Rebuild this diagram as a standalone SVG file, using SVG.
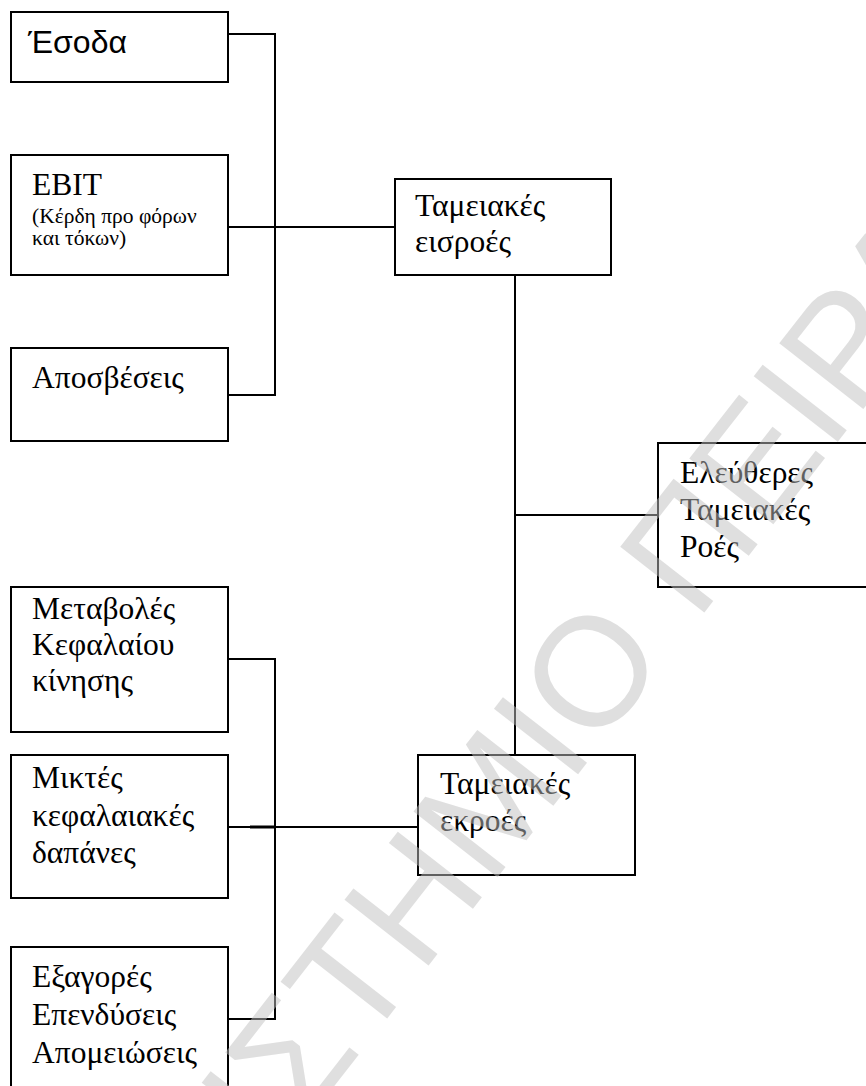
<svg xmlns="http://www.w3.org/2000/svg" width="866" height="1086" viewBox="0 0 866 1086">
<style>
.box{fill:#fff;stroke:#000;stroke-width:2}
.t{font-family:'Liberation Serif','Times New Roman',Times,'DejaVu Serif',serif;font-size:31.5px;fill:#000}
.s{font-family:'Liberation Serif','Times New Roman',Times,'DejaVu Serif',serif;font-size:21.5px;fill:#000}
.sans{font-family:'Liberation Sans',Arial,sans-serif;font-size:32px;fill:#000}
.c{fill:none;stroke:#000;stroke-width:2}
.wm{font-family:'Liberation Sans',Arial,sans-serif;font-size:155px;fill:#c0c0c0;fill-opacity:0.5}
</style>
<rect width="866" height="1086" fill="#fff"/>
<g id="connectors">
<path class="c" d="M228,34 H275 V395 H228"/>
<path class="c" d="M228,227 H395"/>
<path class="c" d="M515,275 V755"/>
<path class="c" d="M515,515 H658"/>
<path class="c" d="M228,659 H275 V1019 H228"/>
<path class="c" d="M228,827 H418"/>
<path class="c" d="M250,827 H275" style="stroke-width:3"/>
</g>
<g id="esoda"><rect class="box" x="11" y="12" width="217" height="70"/><text class="sans" x="28" y="53">Έσοδα</text></g>
<g id="ebit"><rect class="box" x="11" y="155" width="217" height="120"/><text class="t" x="32" y="195">EBIT</text><text class="s" x="32" y="223">(Κέρδη προ φόρων</text><text class="s" x="32" y="245">και τόκων)</text></g>
<g id="aposveseis"><rect class="box" x="11" y="348" width="217" height="93"/><text class="t" x="32" y="388">Αποσβέσεις</text></g>
<g id="eisroes"><rect class="box" x="395" y="179" width="216" height="96"/><text class="t" x="415" y="216">Ταμειακές</text><text class="t" x="415" y="252">εισροές</text></g>
<g id="fcf"><rect class="box" x="658" y="443" width="220" height="144"/><text class="t" x="680" y="483">Ελεύθερες</text><text class="t" x="680" y="520">Ταμειακές</text><text class="t" x="680" y="557">Ροές</text></g>
<g id="metavoles"><rect class="box" x="11" y="587" width="217" height="145"/><text class="t" x="32" y="619">Μεταβολές</text><text class="t" x="32" y="655">Κεφαλαίου</text><text class="t" x="32" y="691">κίνησης</text></g>
<g id="miktes"><rect class="box" x="11" y="755" width="217" height="143"/><text class="t" x="32" y="788">Μικτές</text><text class="t" x="32" y="826">κεφαλαιακές</text><text class="t" x="32" y="863">δαπάνες</text></g>
<g id="exagores"><rect class="box" x="11" y="947" width="217" height="150"/><text class="t" x="32" y="987">Εξαγορές</text><text class="t" x="32" y="1025">Επενδύσεις</text><text class="t" x="32" y="1063">Απομειώσεις</text></g>
<g id="ekroes"><rect class="box" x="418" y="755" width="217" height="120"/><text class="t" x="440" y="794">Ταμειακές</text><text class="t" x="440" y="831">εκροές</text></g>
<text class="wm" transform="translate(-57,1587) rotate(-52)">ΠΑΝΕΠΙΣΤΗΜΙΟ ΠΕΙΡΑΙΩΣ</text>
</svg>
